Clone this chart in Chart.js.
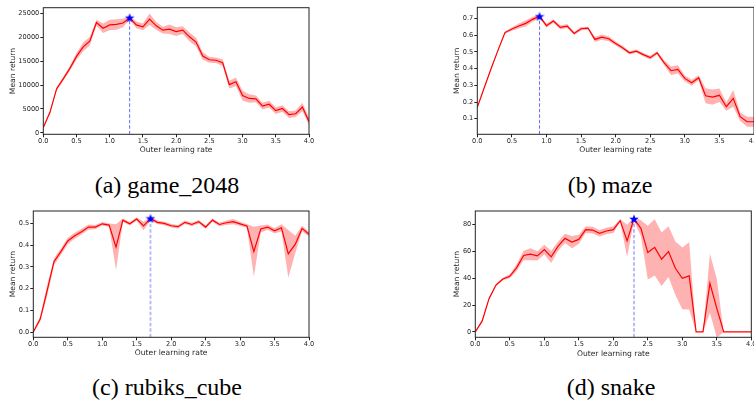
<!DOCTYPE html>
<html>
<head>
<meta charset="utf-8">
<script src="https://cdn.jsdelivr.net/npm/chart.js@4.4.1/dist/chart.umd.min.js"></script>
<style>
  html, body { margin: 0; padding: 0; width: 754px; height: 405px; overflow: hidden; background: #fff; }
  canvas { position: absolute; }
  .cap {
    position: absolute;
    font-family: "Liberation Serif", "Times New Roman", serif;
    font-size: 24px;
    line-height: 24px;
    color: #000;
    white-space: nowrap;
    transform: translateX(-50%);
  }
</style>
</head>
<body>
<canvas id="game2048"></canvas>
<canvas id="maze"></canvas>
<canvas id="rubiks"></canvas>
<canvas id="snake"></canvas>
<div class="cap" style="left:167px; top:173px;">(a) game_2048</div>
<div class="cap" style="left:610px; top:173px;">(b) maze</div>
<div class="cap" style="left:167px; top:375px;">(c) rubiks_cube</div>
<div class="cap" style="left:611px; top:375px;">(d) snake</div>
<script>
// Outer learning rates swept in every task
const rates = [0.0, 0.1, 0.2, 0.3, 0.4, 0.5, 0.6, 0.7, 0.8, 0.9,
               1.0, 1.1, 1.2, 1.3, 1.4, 1.5, 1.6, 1.7, 1.8, 1.9,
               2.0, 2.1, 2.2, 2.3, 2.4, 2.5, 2.6, 2.7, 2.8, 2.9,
               3.0, 3.1, 3.2, 3.3, 3.4, 3.5, 3.6, 3.7, 3.8, 3.9, 4.0];
const xTickValues = [0, 0.5, 1, 1.5, 2, 2.5, 3, 3.5, 4];

// game_2048
const game2048Mean = [1100, 4300, 9200, 11300, 13500, 16000, 18000, 19200, 23100, 21900,
                      22600, 22700, 23000, 24100, 22600, 22200, 23800, 22400, 21500, 21700,
                      21200, 21500, 20100, 19000, 16100, 15300, 15200, 14700, 10100, 10700,
                      7800, 7200, 7100, 5600, 6000, 4650, 5100, 3800, 4000, 5400, 2400];
const game2048Std = [300, 300, 400, 400, 500, 700, 900, 900, 600, 1000,
                     1100, 1100, 900, 400, 700, 700, 1200, 800, 700, 1000,
                     900, 800, 900, 900, 800, 600, 600, 700, 800, 900,
                     1000, 900, 700, 700, 700, 700, 700, 700, 700, 900, 800];
const game2048YTicks = [0, 5000, 10000, 15000, 20000, 25000];

// maze
const mazeMean = [0.168, 0.285, 0.400, 0.510, 0.615, 0.636, 0.654, 0.670, 0.694, 0.712,
                  0.656, 0.684, 0.646, 0.654, 0.610, 0.638, 0.642, 0.574, 0.588, 0.578,
                  0.550, 0.524, 0.494, 0.504, 0.483, 0.465, 0.494, 0.435, 0.387, 0.395,
                  0.341, 0.315, 0.345, 0.237, 0.229, 0.240, 0.172, 0.222, 0.112, 0.082, 0.082];
const mazeStd = [0.005, 0.005, 0.005, 0.005, 0.008, 0.010, 0.015, 0.018, 0.015, 0.010,
                 0.012, 0.010, 0.012, 0.012, 0.010, 0.010, 0.008, 0.015, 0.016, 0.015,
                 0.012, 0.012, 0.010, 0.010, 0.010, 0.012, 0.010, 0.015, 0.025, 0.025,
                 0.018, 0.018, 0.015, 0.045, 0.045, 0.040, 0.025, 0.050, 0.025, 0.030, 0.030];
const mazeYTicks = [0.1, 0.2, 0.3, 0.4, 0.5, 0.6, 0.7];

// rubiks_cube
const rubiksMean = [0.000, 0.060, 0.190, 0.324, 0.370, 0.419, 0.443, 0.462, 0.483, 0.483,
                    0.498, 0.492, 0.391, 0.515, 0.498, 0.520, 0.488, 0.523, 0.505, 0.500,
                    0.489, 0.485, 0.505, 0.495, 0.508, 0.483, 0.515, 0.495, 0.503, 0.508,
                    0.498, 0.488, 0.370, 0.474, 0.483, 0.466, 0.480, 0.360, 0.403, 0.477, 0.450];
const rubiksStd = [0.004, 0.012, 0.025, 0.016, 0.015, 0.015, 0.014, 0.013, 0.012, 0.010,
                   0.008, 0.008, 0.105, 0.008, 0.008, 0.008, 0.020, 0.008, 0.008, 0.008,
                   0.008, 0.008, 0.008, 0.008, 0.008, 0.008, 0.008, 0.008, 0.010, 0.012,
                   0.010, 0.008, 0.115, 0.016, 0.012, 0.012, 0.016, 0.110, 0.040, 0.012, 0.012];
const rubiksYTicks = [0.0, 0.1, 0.2, 0.3, 0.4, 0.5];

// snake
const snakeMean = [0, 8.2, 25, 35, 39.5, 41.5, 48, 57, 58, 56.7,
                   61.5, 56, 64, 69.8, 67, 69, 76.3, 76, 73.6, 75.3,
                   76.3, 83, 67.9, 84.3, 77.3, 59.2, 63.1, 54.2, 59.9, 47.5,
                   40, 41.8, 0, 0, 36.3, 17.6, 0, 0, 0, 0, 0];
const snakeStd = [0.5, 1, 1, 1, 1, 1.5, 2.5, 3.5, 4.5, 3.5,
                  3.5, 4.5, 3.5, 3.5, 4.5, 3.5, 2.5, 2.5, 2.5, 2.5,
                  2.5, 1, 12, 1.5, 6, 20, 21, 20, 19, 20,
                  23, 25, 0, 0, 22, 22, 0, 0, 0, 0, 0];
const snakeYTicks = [0, 20, 40, 60, 80];

Chart.defaults.font.family = "'DejaVu Sans', sans-serif";
Chart.defaults.color = '#262626';
Chart.defaults.animation = false;

// filled five-pointed star used to mark the best learning rate
const starMarker = (() => {
  const c = document.createElement('canvas');
  c.width = 10; c.height = 10;
  const g = c.getContext('2d');
  g.fillStyle = '#0000ff';
  g.beginPath();
  for (let i = 0; i < 10; i++) {
    const r = i % 2 === 0 ? 5 : 2.1;
    const a = -Math.PI / 2 + i * Math.PI / 5;
    const px = 5 + r * Math.cos(a), py = 5.4 + r * Math.sin(a);
    if (i === 0) g.moveTo(px, py); else g.lineTo(px, py);
  }
  g.closePath();
  g.fill();
  return c;
})();

// axes frame on all four sides
const framePlugin = {
  id: 'frame',
  afterDatasetsDraw(chart) {
    const { ctx, chartArea: a } = chart;
    ctx.save();
    ctx.strokeStyle = '#222';
    ctx.lineWidth = 1;
    ctx.strokeRect(a.left, a.top, a.right - a.left, a.bottom - a.top);
    ctx.restore();
  }
};

function makePanel(id, p) {
  const canvas = document.getElementById(id);
  const left = Math.floor(p.yTitleX - 9);
  const top = Math.floor(p.area.t - 8);
  const right = Math.ceil(p.area.r + 16);
  const boxBottom = p.xTitleY + 5.5;
  const bottom = Math.ceil(boxBottom + 3);
  const W = right - left, H = bottom - top;
  canvas.width = W; canvas.height = H;
  canvas.style.left = left + 'px';
  canvas.style.top = top + 'px';
  canvas.style.width = W + 'px';
  canvas.style.height = H + 'px';

  const yW = p.area.l - left;
  const xH = boxBottom - p.area.b;

  const upper = rates.map((x, i) => ({ x, y: p.mean[i] + p.std[i] }));
  const lower = rates.map((x, i) => ({ x, y: p.mean[i] - p.std[i] }));
  const line = rates.map((x, i) => ({ x, y: p.mean[i] }));
  let best = 0;
  p.mean.forEach((v, i) => { if (v > p.mean[best]) best = i; });
  const bestX = rates[best], bestY = p.mean[best];

  const tickFont = { size: 6.6, lineHeight: 1.2 };
  const titleFont = { size: 7.6, lineHeight: 1.2 };

  new Chart(canvas, {
    type: 'line',
    data: {
      datasets: [
        { data: [{ x: bestX, y: bestY }], showLine: false, pointStyle: starMarker,
          pointRadius: 5, order: 0 },
        { data: [{ x: bestX, y: p.yMin }, { x: bestX, y: bestY }],
          borderColor: p.dashColor, borderWidth: p.dashWidth, borderDash: [3.5, 2],
          pointRadius: 0, order: 1 },
        { data: line, borderColor: '#ff0000', borderWidth: 1.2, pointRadius: 0,
          tension: 0, order: 2 },
        { data: upper, borderColor: 'transparent', borderWidth: 0, pointRadius: 0,
          backgroundColor: 'rgba(255,0,0,0.3)', fill: '+1', tension: 0, order: 3 },
        { data: lower, borderColor: 'transparent', borderWidth: 0, pointRadius: 0,
          fill: false, tension: 0, order: 4 }
      ]
    },
    options: {
      responsive: false,
      devicePixelRatio: 1,
      animation: false,
      events: [],
      layout: { padding: { left: 0, top: p.area.t - top, right: right - p.area.r, bottom: bottom - boxBottom } },
      plugins: { legend: { display: false }, tooltip: { enabled: false } },
      scales: {
        x: {
          type: 'linear', min: 0, max: 4,
          afterFit: s => { s.height = xH; },
          afterBuildTicks: s => { s.ticks = xTickValues.map(v => ({ value: v })); },
          grid: { display: true, drawOnChartArea: false, drawTicks: true, tickLength: 3, color: '#222' },
          border: { display: false },
          ticks: { font: tickFont, padding: 0.5, maxRotation: 0, autoSkip: false,
                   callback: v => Number(v).toFixed(1) },
          title: { display: true, text: 'Outer learning rate', font: titleFont,
                   padding: { top: 0, bottom: 1 } }
        },
        y: {
          type: 'linear', min: p.yMin, max: p.yMax,
          afterFit: s => { s.width = yW; },
          afterBuildTicks: s => { s.ticks = p.yTicks.map(v => ({ value: v })); },
          grid: { display: true, drawOnChartArea: false, drawTicks: true, tickLength: 3, color: '#222' },
          border: { display: false },
          ticks: { font: tickFont, padding: 1, autoSkip: false, callback: p.yFormat },
          title: { display: true, text: 'Mean return', font: titleFont,
                   padding: { top: p.yTitleX - left - 4.56, bottom: 0 } }
        }
      }
    },
    plugins: [framePlugin]
  });
}

makePanel('game2048', {
  area: { l: 43.3, r: 309, t: 7.7, b: 134.3 }, yTitleX: 13.3, xTitleY: 150,
  mean: game2048Mean, std: game2048Std, yTicks: game2048YTicks,
  yMin: -300, yMax: 26200, yFormat: v => String(Math.round(v)),
  dashColor: 'rgba(0,0,255,0.6)', dashWidth: 1
});
makePanel('maze', {
  area: { l: 477.3, r: 754, t: 7.3, b: 134.3 }, yTitleX: 456.7, xTitleY: 150,
  mean: mazeMean, std: mazeStd, yTicks: mazeYTicks,
  yMin: 0.007, yMax: 0.766, yFormat: v => Number(v).toFixed(1),
  dashColor: 'rgba(0,0,255,0.6)', dashWidth: 1
});
makePanel('rubiks', {
  area: { l: 33.3, r: 309, t: 211, b: 337.3 }, yTitleX: 13.3, xTitleY: 353.3,
  mean: rubiksMean, std: rubiksStd, yTicks: rubiksYTicks,
  yMin: -0.024, yMax: 0.557, yFormat: v => Number(v).toFixed(1),
  dashColor: 'rgba(0,0,255,0.3)', dashWidth: 1.8
});
makePanel('snake', {
  area: { l: 475.3, r: 751.3, t: 211, b: 337.3 }, yTitleX: 456.7, xTitleY: 354,
  mean: snakeMean, std: snakeStd, yTicks: snakeYTicks,
  yMin: -4, yMax: 90.2, yFormat: v => String(Math.round(v)),
  dashColor: 'rgba(0,0,255,0.3)', dashWidth: 1.8
});
</script>
</body>
</html>
